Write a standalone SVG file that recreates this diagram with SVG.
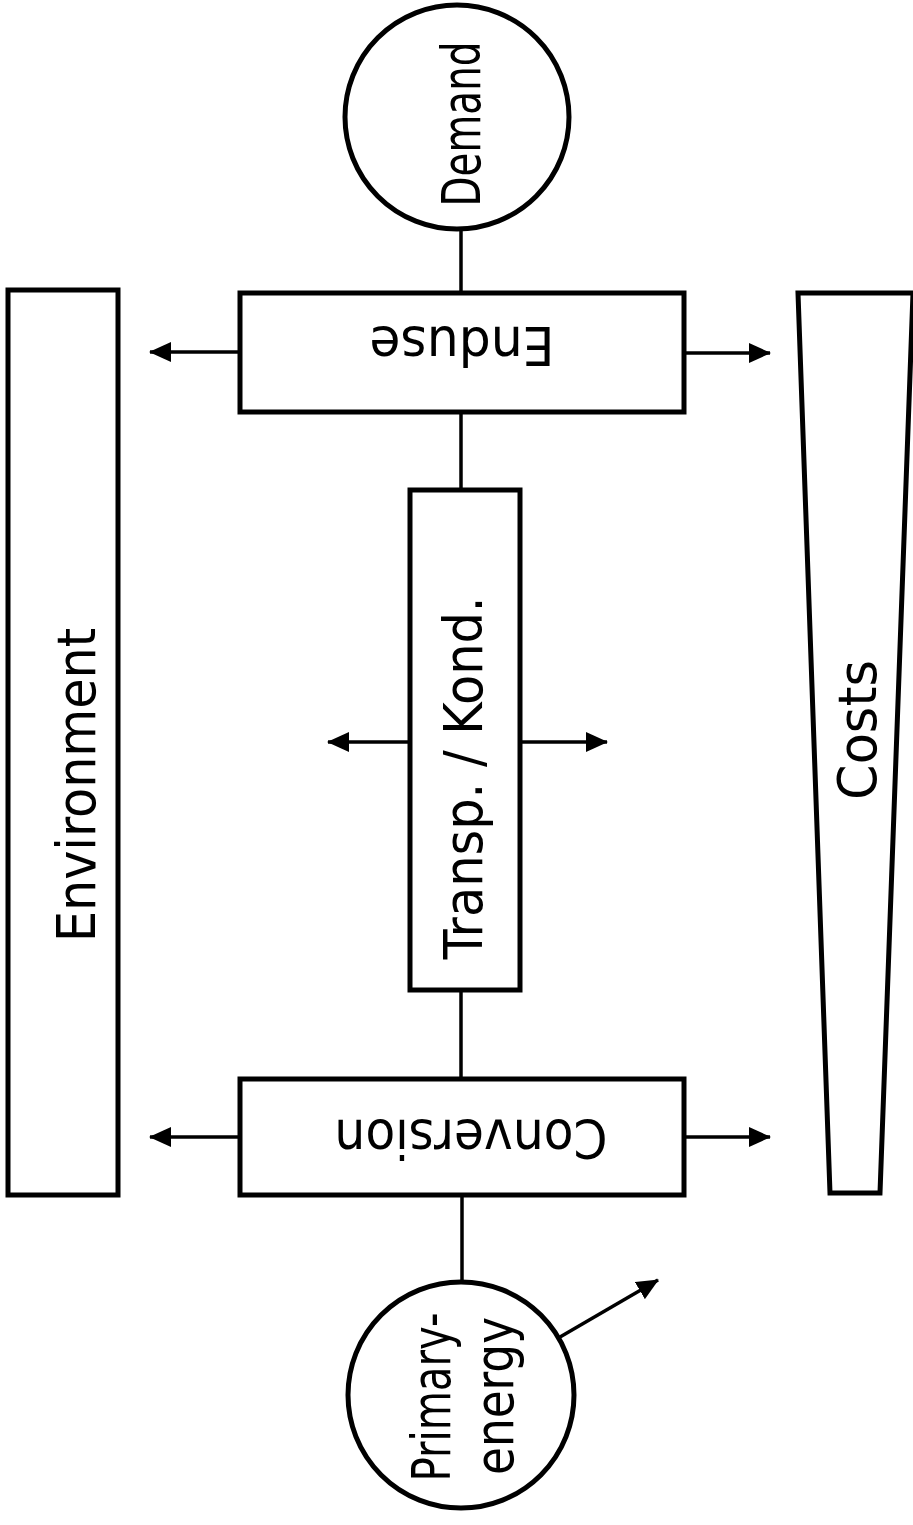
<svg xmlns="http://www.w3.org/2000/svg" width="913" height="1525" viewBox="0 0 913 1525">
  <defs>
    <style>
      .box { fill: #fff; stroke: #000; stroke-width: 5; }
      .line { fill: none; stroke: #000; stroke-width: 3.5; }
      .lbl { font-family: "DejaVu Sans Condensed", "DejaVu Sans", "Liberation Sans", sans-serif; font-stretch: condensed; font-size: 54px; fill: #000; text-anchor: middle; }
    </style>
    <marker id="arrow" viewBox="0 0 22 20" refX="21" refY="10" markerWidth="22" markerHeight="20" markerUnits="userSpaceOnUse" orient="auto">
      <path d="M0,0 L22,10 L0,20 z" fill="#000"/>
    </marker>
  </defs>
  <rect width="913" height="1525" fill="#fff"/>

  <!-- connectors -->
  <g id="connectors">
    <line class="line" x1="461" y1="229" x2="461" y2="293"/>
    <line class="line" x1="461" y1="412" x2="461" y2="490"/>
    <line class="line" x1="461" y1="990" x2="461" y2="1079"/>
    <line class="line" x1="462" y1="1195" x2="462" y2="1283"/>
    <!-- side outputs -->
    <line class="line" x1="240" y1="352" x2="150" y2="352" marker-end="url(#arrow)"/>
    <line class="line" x1="684" y1="353" x2="770" y2="353" marker-end="url(#arrow)"/>
    <line class="line" x1="410" y1="742" x2="328" y2="742" marker-end="url(#arrow)"/>
    <line class="line" x1="520" y1="742" x2="607" y2="742" marker-end="url(#arrow)"/>
    <line class="line" x1="240" y1="1137" x2="150" y2="1137" marker-end="url(#arrow)"/>
    <line class="line" x1="684" y1="1137" x2="770" y2="1137" marker-end="url(#arrow)"/>
    <line class="line" x1="560" y1="1337" x2="658" y2="1280" marker-end="url(#arrow)"/>
  </g>

  <!-- side bars -->
  <g id="environment">
    <rect class="box" x="8" y="290" width="110" height="905"/>
    <text class="lbl" transform="translate(95,785) rotate(-90)" textLength="314" lengthAdjust="spacingAndGlyphs">Environment</text>
  </g>
  <g id="costs">
    <path class="box" d="M798,293 L913,293 L880,1193 L830,1193 Z"/>
    <text class="lbl" transform="translate(876,730) rotate(-90)" textLength="140" lengthAdjust="spacingAndGlyphs">Costs</text>
  </g>

  <!-- chain nodes -->
  <g id="demand">
    <circle class="box" cx="457" cy="117" r="112"/>
    <text class="lbl" transform="translate(480,124) rotate(-90)" textLength="165" lengthAdjust="spacingAndGlyphs">Demand</text>
  </g>
  <g id="enduse">
    <rect class="box" x="240" y="293" width="444" height="119"/>
    <text class="lbl" transform="translate(462,327) rotate(180)" textLength="185" lengthAdjust="spacingAndGlyphs">Enduse</text>
  </g>
  <g id="transport">
    <rect class="box" x="410" y="490" width="110" height="500"/>
    <text class="lbl" transform="translate(482,778) rotate(-90)" textLength="363" lengthAdjust="spacingAndGlyphs">Transp. / Kond.</text>
  </g>
  <g id="conversion">
    <rect class="box" x="240" y="1079" width="444" height="116"/>
    <text class="lbl" transform="translate(471,1120) rotate(180)" textLength="273" lengthAdjust="spacingAndGlyphs">Conversion</text>
  </g>
  <g id="primary-energy">
    <circle class="box" cx="461" cy="1395" r="113"/>
    <text class="lbl" transform="translate(450,1397) rotate(-90)" textLength="169" lengthAdjust="spacingAndGlyphs">Primary-</text>
    <text class="lbl" transform="translate(513,1396) rotate(-90)" textLength="158" lengthAdjust="spacingAndGlyphs">energy</text>
  </g>
</svg>
